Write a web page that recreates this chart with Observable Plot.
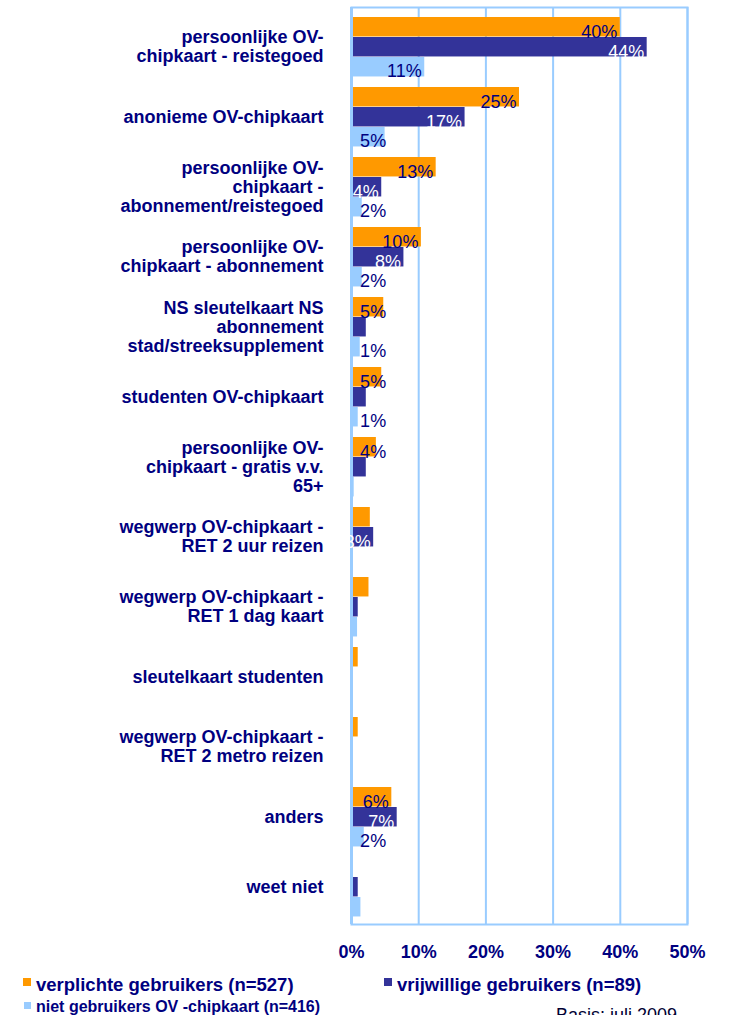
<!DOCTYPE html>
<html>
<head>
<meta charset="utf-8">
<script src="https://cdn.jsdelivr.net/npm/d3@7"></script>
<script src="https://cdn.jsdelivr.net/npm/@observablehq/plot@0.6"></script>
<style>
  html, body { margin: 0; padding: 0; background: #fff; }
  #wrap { position: relative; width: 729px; height: 1015px; overflow: hidden; font-family: "Liberation Sans", Arial, sans-serif; }
  .leg { position: absolute; white-space: nowrap; color: #000080; font-weight: bold; }
  .sw { position: absolute; }
</style>
</head>
<body>
<div id="wrap">
  <div id="chart"></div>
  <div class="sw" style="left:23px; top:978px; width:8px; height:8px; background:#ff9900;"></div>
  <div class="leg" style="left:36px; top:974.5px; font-size:18.5px; line-height:20px;">verplichte gebruikers (n=527)</div>
  <div class="sw" style="left:384px; top:978px; width:8px; height:8px; background:#333399;"></div>
  <div class="leg" style="left:397px; top:974.5px; font-size:18.5px; line-height:20px;">vrijwillige gebruikers (n=89)</div>
  <div class="sw" style="left:24px; top:1002px; width:7px; height:7px; background:#99ccff;"></div>
  <div class="leg" style="left:36px; top:998.5px; font-size:16px; line-height:16px;">niet gebruikers OV -chipkaart (n=416)</div>
  <div style="position:absolute; left:556px; top:1005.5px; font-size:18px; line-height:18px; color:#000033; white-space:nowrap;">Basis: juli 2009</div>
</div>
<script>
const categories = [
  "persoonlijke OV-\nchipkaart - reistegoed",
  "anonieme OV-chipkaart",
  "persoonlijke OV-\nchipkaart -\nabonnement/reistegoed",
  "persoonlijke OV-\nchipkaart - abonnement",
  "NS sleutelkaart NS\nabonnement\nstad/streeksupplement",
  "studenten OV-chipkaart",
  "persoonlijke OV-\nchipkaart - gratis v.v.\n65+",
  "wegwerp OV-chipkaart -\nRET 2 uur reizen",
  "wegwerp OV-chipkaart -\nRET 1 dag kaart",
  "sleutelkaart studenten",
  "wegwerp OV-chipkaart -\nRET 2 metro reizen",
  "anders",
  "weet niet"
];
const seriesNames = ["verplichte gebruikers (n=527)", "vrijwillige gebruikers (n=89)", "niet gebruikers OV -chipkaart (n=416)"];
const verplicht = [40, 25, 12.6, 10.4, 4.8, 4.5, 3.7, 2.8, 2.6, 1.0, 1.0, 6.0, 0];
const vrijwillig = [44, 16.9, 4.5, 7.8, 2.2, 2.2, 2.2, 3.3, 1.0, 0, 0, 6.8, 1.0];
const niet = [10.9, 5.0, 1.6, 1.6, 1.3, 1.0, 0.4, 0, 0.9, 0.25, 0, 1.9, 1.4];
const verplichtLabels = ["40%", "25%", "13%", "10%", "5%", "5%", "4%", null, null, null, null, "6%", null];
const vrijwilligLabels = ["44%", "17%", "4%", "8%", null, null, null, "3%", null, null, null, "7%", null];
const nietLabels = ["11%", "5%", "2%", "2%", "1%", "1%", null, null, null, null, null, "2%", null];
const xTicks = [0, 10, 20, 30, 40, 50];

const colors = ["#ff9900", "#333399", "#99ccff"];
const labelColors = ["#000080", "#ffffff", "#000080"];
const seriesValues = [verplicht, vrijwillig, niet];
const seriesLabels = [verplichtLabels, vrijwilligLabels, nietLabels];

const rows = [];
categories.forEach((c, i) => {
  seriesValues.forEach((vals, j) => {
    rows.push({cat: c, j, series: seriesNames[j], value: vals[i], label: seriesLabels[j][i]});
  });
});

const marginTop = 7, marginBottom = 41, height = 965;
const step = (height - marginTop - marginBottom) / categories.length;
const barH = 20, topOff = 6;

const marks = [
  Plot.gridX(xTicks, {stroke: "#99ccff", strokeOpacity: 1, strokeWidth: 2}),
];
for (let j = 0; j < 3; j++) {
  marks.push(Plot.barX(rows.filter(d => d.j === j), {
    x: "value", y: "cat", fill: colors[j],
    insetTop: topOff + barH * j,
    insetBottom: step - topOff - barH * (j + 1)
  }));
}
marks.push(Plot.frame({stroke: "#99ccff", strokeWidth: 2}));
marks.push(Plot.ruleX([0], {stroke: "#99ccff", strokeWidth: 3}));
for (let j = 0; j < 3; j++) {
  marks.push(Plot.text(rows.filter(d => d.j === j && d.label), {
    x: d => j === 1 ? d.value : Math.max(d.value, 5.6),
    y: "cat", text: "label", textAnchor: "end", dx: -3,
    dy: -14 + 19.5 * j,
    fill: labelColors[j], fontSize: 18
  }));
}
marks.push(Plot.axisY({tickSize: 0, tickPadding: 28, fontSize: 18, fontWeight: "bold", color: "#000080", lineHeight: 1.056, label: null}));
marks.push(Plot.axisX({ticks: xTicks, tickFormat: d => d + "%", tickSize: 0, tickPadding: 21, fontSize: 18, fontWeight: "bold", color: "#000080", label: null}));

const chart = Plot.plot({
  width: 729,
  height,
  marginTop, marginBottom,
  marginLeft: 351, marginRight: 42,
  x: {domain: [0, 50]},
  y: {domain: categories, padding: 0},
  style: {fontFamily: "'Liberation Sans', Arial, sans-serif", background: "white", overflow: "visible"},
  marks
});
document.getElementById("chart").appendChild(chart);
</script>
</body>
</html>
